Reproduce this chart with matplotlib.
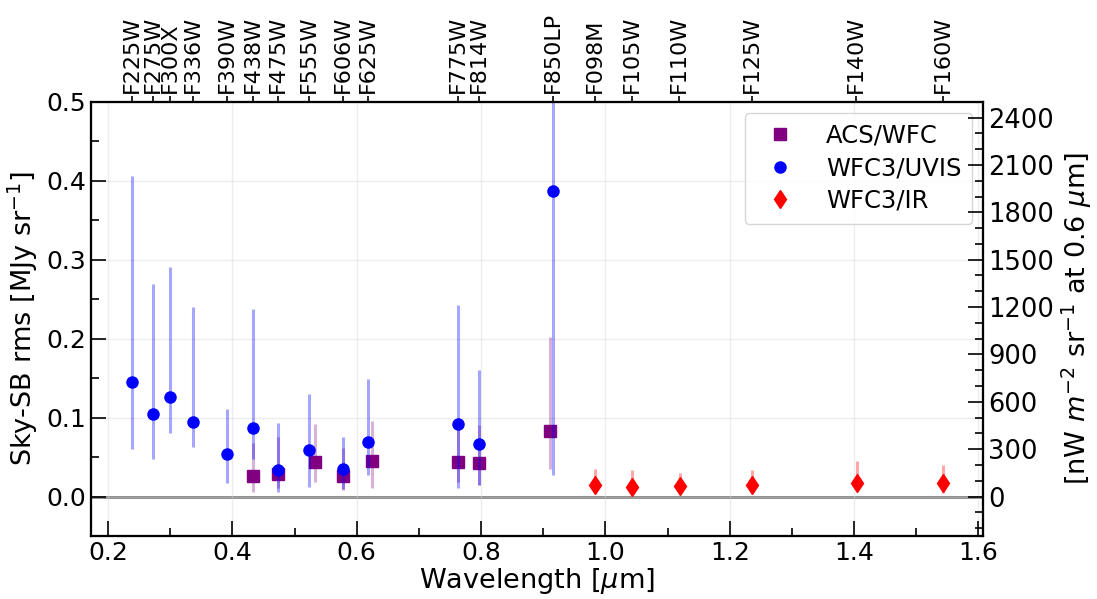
import numpy as np
import matplotlib
matplotlib.use("Agg")
from matplotlib import pyplot as plt
from matplotlib.ticker import MultipleLocator

# filter names on the top axis and their wavelengths [um]
filter_names = ["F225W", "F275W", "F300X", "F336W", "F390W", "F438W", "F475W",
                "F555W", "F606W", "F625W", "F775W", "F814W", "F850LP",
                "F098M", "F105W", "F110W", "F125W", "F140W", "F160W"]
filter_wl = [0.2377, 0.2724, 0.2993, 0.3358, 0.3905, 0.4324, 0.4736,
             0.5235, 0.5782, 0.6184, 0.7623, 0.7970, 0.9160,
             0.9832, 1.0423, 1.1184, 1.2364, 1.4033, 1.5428]

# ACS/WFC
acs_wl = [0.4329, 0.4736, 0.5327, 0.5782, 0.6249, 0.7623, 0.7970, 0.9113]
acs_val = [0.0257, 0.0290, 0.0443, 0.0257, 0.0447, 0.0440, 0.0420, 0.0835]
acs_lo = [0.006, 0.011, 0.019, 0.008, 0.011, 0.018, 0.015, 0.035]
acs_hi = [0.068, 0.076, 0.092, 0.062, 0.096, 0.088, 0.090, 0.202]

# WFC3/UVIS
uvis_wl = [0.2377, 0.2724, 0.2993, 0.3358, 0.3905, 0.4324, 0.4736,
           0.5235, 0.5782, 0.6184, 0.7623, 0.7970, 0.9160]
uvis_val = [0.145, 0.105, 0.1266, 0.094, 0.054, 0.0865, 0.033,
            0.0586, 0.035, 0.069, 0.092, 0.066, 0.387]
uvis_lo = [0.060, 0.047, 0.081, 0.063, 0.017, 0.047, 0.0055,
           0.012, 0.009, 0.027, 0.011, 0.015, 0.0275]
uvis_hi = [0.406, 0.269, 0.291, 0.240, 0.111, 0.238, 0.093,
           0.130, 0.076, 0.149, 0.243, 0.160, 0.750]

# WFC3/IR
ir_wl = [0.9832, 1.0423, 1.1201, 1.2364, 1.4053, 1.5438]
ir_val = [0.0150, 0.0122, 0.0130, 0.0148, 0.0165, 0.0169]
ir_lo = [0.0050, 0.0046, 0.0046, 0.0055, 0.0090, 0.0046]
ir_hi = [0.0350, 0.0340, 0.0300, 0.0330, 0.0456, 0.0400]

conv = 5000.0  # MJy/sr -> nW m^-2 sr^-1 at 0.6 um


def yerr(val, lo, hi):
    val, lo, hi = np.array(val), np.array(lo), np.array(hi)
    return [val - lo, hi - val]


fig = plt.figure(figsize=(10.97, 5.99), dpi=100)
ax = fig.add_axes([0.0827, 0.1052, 0.8137, 0.7248])

ax.axhline(0, color="gray", lw=2, zorder=1)

ax.errorbar(acs_wl, acs_val, yerr=yerr(acs_val, acs_lo, acs_hi), fmt="none",
            ecolor="purple", alpha=0.3, elinewidth=2.2, zorder=2)
l1, = ax.plot(acs_wl, acs_val, "s", color="purple", ms=8, label="ACS/WFC", zorder=3)
ax.errorbar(uvis_wl, uvis_val, yerr=yerr(uvis_val, uvis_lo, uvis_hi), fmt="none",
            ecolor="blue", alpha=0.35, elinewidth=2.2, zorder=4)
l2, = ax.plot(uvis_wl, uvis_val, "o", color="blue", ms=8, label="WFC3/UVIS", zorder=5)
ax.errorbar(ir_wl, ir_val, yerr=yerr(ir_val, ir_lo, ir_hi), fmt="none",
            ecolor="red", alpha=0.35, elinewidth=2.2, zorder=6)
l3, = ax.plot(ir_wl, ir_val, "d", color="red", ms=9.5, label="WFC3/IR", zorder=7)

ax.set_xlim(0.172, 1.608)
ax.set_ylim(-0.05, 0.5)
ax.xaxis.set_major_locator(MultipleLocator(0.2))
ax.xaxis.set_minor_locator(MultipleLocator(0.1))
ax.yaxis.set_major_locator(MultipleLocator(0.1))
ax.yaxis.set_minor_locator(MultipleLocator(0.05))
ax.tick_params(which="both", direction="in", labelsize=18, width=1.2)
ax.tick_params(which="major", length=11)
ax.tick_params(which="minor", length=5.5)
ax.grid(True, color="lightgray", alpha=0.4, lw=1)
ax.set_xlabel(r"Wavelength [$\mu$m]", fontsize=19.5, labelpad=1)
ax.set_ylabel(r"Sky-SB rms [MJy sr$^{-1}$]", fontsize=19.5)
for s in ax.spines.values():
    s.set_linewidth(1.5)

ax.legend(handles=[l1, l2, l3], loc="upper right", fontsize=17.5,
          borderpad=0.45, handletextpad=0.9, labelspacing=0.35,
          borderaxespad=0.45)

# right axis
axr = ax.twinx()
axr.set_ylim(-0.05 * conv, 0.5 * conv)
axr.yaxis.set_major_locator(MultipleLocator(300))
axr.yaxis.set_minor_locator(MultipleLocator(100))
axr.tick_params(which="both", direction="in", labelsize=18.5, width=1.2)
axr.tick_params(which="major", length=11)
axr.tick_params(which="minor", length=5.5)
axr.set_ylabel(r"[nW $m^{-2}$ sr$^{-1}$ at 0.6 $\mu$m]", fontsize=19.5)

# top axis with filter names
axt = ax.twiny()
axt.set_xlim(ax.get_xlim())
axt.set_xticks(filter_wl)
axt.set_xticklabels(filter_names, rotation=90, fontsize=16)
axt.tick_params(axis="x", direction="out", length=4, width=1.2, pad=2)
axt.xaxis.set_minor_locator(plt.NullLocator())
for a in (axr, axt):
    for s in a.spines.values():
        s.set_linewidth(1.5)

fig.savefig("out.png", dpi=100)
